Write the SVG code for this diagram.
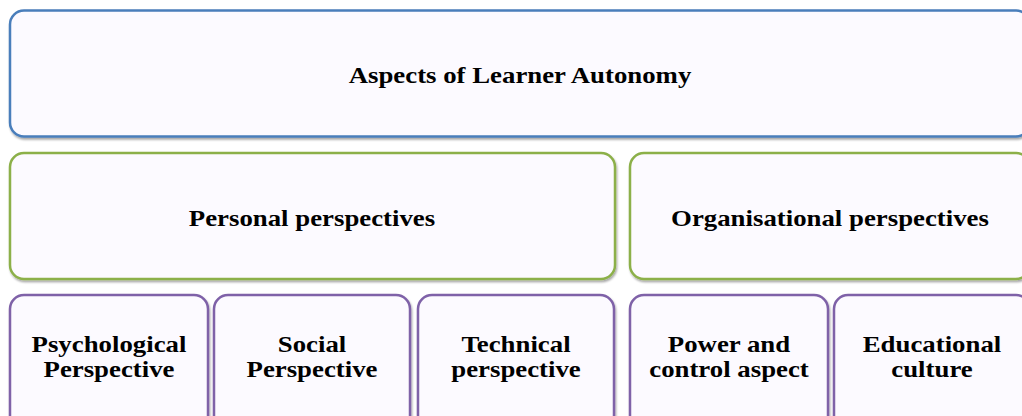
<svg xmlns="http://www.w3.org/2000/svg" width="1022" height="416" viewBox="0 0 1022 416">
<defs>
<filter id="sh" x="-5%" y="-5%" width="110%" height="115%">
<feDropShadow dx="1" dy="2" stdDeviation="1.2" flood-color="#000" flood-opacity="0.35"/>
</filter>
</defs>
<style>
.box{fill:#fcfaff;stroke-width:2.5;filter:url(#sh)}
.b{stroke:#4a7ebb}
.g{stroke:#8cb04a}
.p{stroke:#7f62a8}
text{font-family:"Liberation Serif","Times New Roman",serif;font-weight:bold;font-size:24px;fill:#000;text-anchor:middle}
</style>
<rect width="1022" height="416" fill="#fff"/>
<g id="top">
<rect class="box b" x="10" y="10.5" width="1020" height="126" rx="14"/>
<text transform="translate(520 83.3) scale(1.117 1)">Aspects of Learner Autonomy</text>
</g>
<g id="personal">
<rect class="box g" x="10" y="153" width="605" height="126" rx="14"/>
<text transform="translate(312 225.5) scale(1.117 1)">Personal perspectives</text>
</g>
<g id="organisational">
<rect class="box g" x="630" y="153" width="400" height="126" rx="14"/>
<text transform="translate(830 225.5) scale(1.117 1)">Organisational perspectives</text>
</g>
<g id="psychological">
<rect class="box p" x="10" y="295" width="198" height="140" rx="14"/>
<text transform="translate(109 351.7) scale(1.117 1)">Psychological</text>
<text transform="translate(109 376.7) scale(1.117 1)">Perspective</text>
</g>
<g id="social">
<rect class="box p" x="214" y="295" width="196" height="140" rx="14"/>
<text transform="translate(312 351.7) scale(1.117 1)">Social</text>
<text transform="translate(312 376.7) scale(1.117 1)">Perspective</text>
</g>
<g id="technical">
<rect class="box p" x="418" y="295" width="196" height="140" rx="14"/>
<text transform="translate(516 351.7) scale(1.117 1)">Technical</text>
<text transform="translate(516 376.7) scale(1.117 1)">perspective</text>
</g>
<g id="power">
<rect class="box p" x="630" y="295" width="198" height="140" rx="14"/>
<text transform="translate(729 351.7) scale(1.117 1)">Power and</text>
<text transform="translate(729 376.7) scale(1.117 1)">control aspect</text>
</g>
<g id="educational">
<rect class="box p" x="834" y="295" width="196" height="140" rx="14"/>
<text transform="translate(932 351.7) scale(1.117 1)">Educational</text>
<text transform="translate(932 376.7) scale(1.117 1)">culture</text>
</g>
<g id="connectors"></g>
</svg>
